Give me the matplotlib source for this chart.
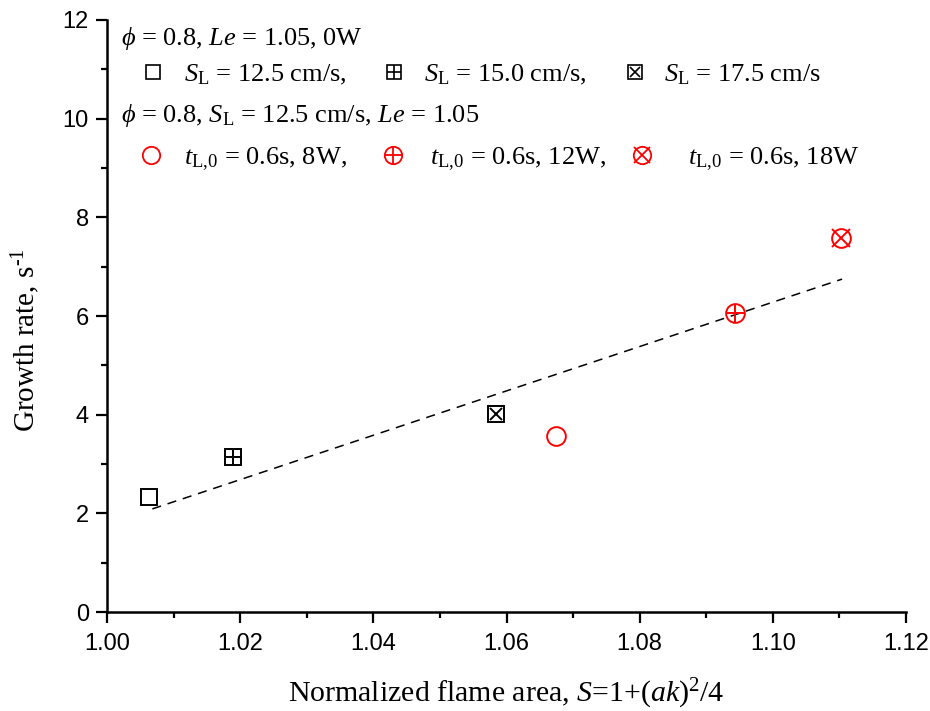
import numpy as np
import matplotlib
matplotlib.use("Agg")
import matplotlib.pyplot as plt
from matplotlib import font_manager

plt.rcParams['mathtext.fontset'] = 'custom'
plt.rcParams['mathtext.rm'] = 'Liberation Serif'
plt.rcParams['mathtext.it'] = 'Liberation Serif:italic'
plt.rcParams['mathtext.bf'] = 'Liberation Serif:bold'
plt.rcParams['font.family'] = ['Liberation Serif', 'DejaVu Serif']

# Flames without heating (0W) at three laminar flame speeds
sl_area = [1.0063, 1.0189, 1.0584]
sl_growth = [2.33, 3.14, 4.01]
sl_speed = ['12.5', '15.0', '17.5']

# Flames at S_L = 12.5 cm/s with heating power
heat_area = [1.0674, 1.0943, 1.1102]
heat_growth = [3.57, 6.06, 7.58]
heat_power = ['8W', '12W', '18W']

x_ticks = [1.00, 1.02, 1.04, 1.06, 1.08, 1.10, 1.12]
y_ticks = [0, 2, 4, 6, 8, 10, 12]

installed = {f.name for f in font_manager.fontManager.ttflist}
tick_family = ['Liberation Sans Narrow'] if 'Liberation Sans Narrow' in installed \
    else ['Liberation Sans']

fig = plt.figure(figsize=(9.30, 7.11), dpi=100)
ax = fig.add_axes([0.1151, 0.1392, 0.8591, 0.8327])

RED = '#ff0000'
# overlay symbol for each series: None, '+', 'x'
overlays = [None, '+', 'x']


def draw_marker(ax, x, y, base, over, color, size, lw, **kw):
    ax.plot([x], [y], linestyle='none', marker=base, markersize=size,
            markerfacecolor='none', markeredgecolor=color, markeredgewidth=lw,
            zorder=5, **kw)
    if over is not None:
        osize = size * (1.0 if over == '+' else (0.78 if base == 's' else 0.95))
        ax.plot([x], [y], linestyle='none', marker=over, markersize=osize,
                markeredgecolor=color, markeredgewidth=lw, zorder=6, **kw)


# linear fit over all points
all_x = np.array(sl_area + heat_area)
all_y = np.array(sl_growth + heat_growth)
coef = np.polyfit(all_x, all_y, 1)
fx = np.array([all_x.min() + 0.0005, all_x.max() + 0.0002])
ax.plot(fx, np.polyval(coef, fx), color='black', linestyle=(0, (6, 4.5)),
        linewidth=1.1, zorder=3)

for x, y, ov in zip(sl_area, sl_growth, overlays):
    draw_marker(ax, x, y, 's', ov, 'black', 11.5, 1.4)
for x, y, ov in zip(heat_area, heat_growth, overlays):
    draw_marker(ax, x, y, 'o', ov, RED, 13.5, 1.4)

ax.set_xlim(1.00, 1.12)
ax.set_ylim(0, 12)
ax.set_xticks(x_ticks)
ax.set_xticklabels([f'{v:.2f}' for v in x_ticks])
ax.set_yticks(y_ticks)
ax.set_yticklabels([str(v) for v in y_ticks])
ax.set_xticks(np.arange(1.01, 1.12, 0.02), minor=True)
ax.set_yticks(np.arange(1, 12, 2), minor=True)

for s in ['top', 'right']:
    ax.spines[s].set_visible(False)
for s in ['left', 'bottom']:
    ax.spines[s].set_linewidth(1.8)

ax.tick_params(which='major', direction='out', length=8, width=1.6,
               labelsize=17)
ax.tick_params(which='minor', direction='out', length=4.3, width=1.6)
ax.tick_params(axis='x', which='major', pad=7)
ax.tick_params(axis='y', which='major', pad=5)
for lab in ax.get_xticklabels() + ax.get_yticklabels():
    lab.set_fontfamily(tick_family)

ax.set_xlabel(r'Normalized flame area, $S$=1+($ak$)$^2$/4', fontsize=21.5)
ax.xaxis.set_label_coords(0.5, -0.11)
ax.set_ylabel(r'Growth rate, s$^{\text{-1}}$', fontsize=21)
ax.yaxis.set_label_coords(-0.081, 0.4595)

# legend block drawn in axes coordinates
fs = 19
tr = ax.transAxes


def px(xp, yp):
    # figure pixel -> axes fraction
    x0, y0 = 107, 612
    return (xp - x0) / (906 - x0), (y0 - yp) / (612 - 20)


ax.text(*px(121, 45), r'$\phi$ = 0.8, $Le$ = 1.05, 0W', transform=tr,
        fontsize=fs, va='baseline', ha='left')
sl_mx = [153, 394, 635]
sl_tx = [184, 424, 664]
for mx, tx, ov, sp in zip(sl_mx, sl_tx, overlays, sl_speed):
    draw_marker(ax, *px(mx, 72), 's', ov, 'black', 9.5, 1.2,
                transform=tr, clip_on=False)
    ax.text(*px(tx, 81), r'$S_{\rm L}$ = ' + sp + ' cm/s' +
            (',' if sp != sl_speed[-1] else ''),
            transform=tr, fontsize=fs, va='baseline', ha='left')

ax.text(*px(121, 122), r'$\phi$ = 0.8, $S_{\rm L}$ = 12.5 cm/s, $Le$ = 1.05',
        transform=tr, fontsize=fs, va='baseline', ha='left')
ht_mx = [151, 393, 642]
ht_tx = [184, 430, 688]
for mx, tx, ov, pw in zip(ht_mx, ht_tx, overlays, heat_power):
    draw_marker(ax, *px(mx, 155), 'o', ov, RED, 12.5, 1.3,
                transform=tr, clip_on=False)
    ax.text(*px(tx, 165), r'$t_{\rm L,\!0}$ = 0.6s, ' + pw +
            (',' if pw != heat_power[-1] else ''),
            transform=tr, fontsize=fs, va='baseline', ha='left')

fig.savefig('out.png', dpi=100)
